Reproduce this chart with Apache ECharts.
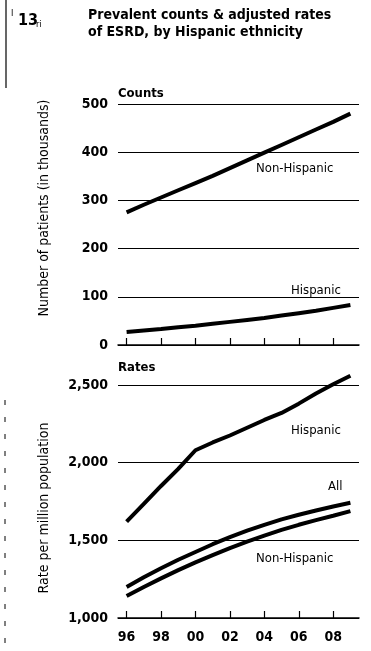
<!DOCTYPE html>
<html>
<head>
<meta charset="utf-8">
<script src="https://cdn.jsdelivr.net/npm/echarts@6/dist/echarts.min.js"></script>
<style>
html,body{margin:0;padding:0;background:#fff;}
#chart{width:371px;height:651px;}
</style>
</head>
<body>
<div id="chart"></div>
<script>
var years = ['1996','1997','1998','1999','2000','2001','2002','2003','2004','2005','2006','2007','2008','2009'];
var countsNonHispanic = [275,291,306,321,336,351,367,383,399,415,431,447,463,480];
var countsHispanic = [27,30,33,37,40,44,48,52,56,61,66,71,77,83];
var ratesHispanic = [1620,1735,1850,1960,2080,2130,2175,2225,2275,2320,2380,2445,2505,2560];
var ratesAll = [1200,1262,1320,1375,1425,1475,1520,1562,1600,1635,1665,1692,1718,1742];
var ratesNonHispanic = [1142,1200,1255,1308,1358,1405,1450,1492,1530,1567,1600,1630,1658,1688];

var FONT = '"Liberation Sans Narrow","DejaVu Sans Condensed",sans-serif';
var chart = echarts.init(document.getElementById('chart'));

function xAxisCfg(gridIndex, showLabels){
  return {
    type:'category', gridIndex:gridIndex, data:years, boundaryGap:true,
    axisLine:{show:true, lineStyle:{color:'#000', width:1.5}},
    axisTick:{show:true, inside:true, length:7, alignWithLabel:true, interval:1, lineStyle:{color:'#000', width:1.2}},
    axisLabel:{show:showLabels, interval:1, color:'#000', fontFamily:FONT, fontSize:14, fontWeight:'bold', margin:12,
      formatter:function(v){return v.slice(2);}},
    splitLine:{show:false}
  };
}
function yAxisCfg(gridIndex, min, max, interval, fmt){
  return {
    type:'value', gridIndex:gridIndex, min:min, max:max, interval:interval,
    axisLine:{show:false}, axisTick:{show:false},
    axisLabel:{color:'#000', fontFamily:FONT, fontSize:14, fontWeight:'bold', margin:10, formatter:fmt},
    splitLine:{show:true, lineStyle:{color:'#000', width:1}}
  };
}
function lineSeries(x, y, data){
  return {type:'line', xAxisIndex:x, yAxisIndex:y, data:data, symbol:'none', smooth:false, clip:false,
    lineStyle:{color:'#000', width:4}, z:3, silent:true};
}
function txt(x, y, s, opts){
  return {type:'text', left:x, top:y, style:Object.assign({text:s, fill:'#000', font:'13px '+FONT}, opts||{})};
}
function vtxt(cx, cy, s){
  return {type:'text', x:cx, y:cy, rotation:Math.PI/2,
    style:{text:s, fill:'#000', font:'14px '+FONT, align:'center', verticalAlign:'middle'}};
}

chart.setOption({
  animation:false,
  backgroundColor:'#fff',
  grid:[
    {left:118, right:12, top:104, height:241},
    {left:118, right:12, top:385, height:233}
  ],
  xAxis:[xAxisCfg(0,false), xAxisCfg(1,true)],
  yAxis:[
    yAxisCfg(0,0,500,100, function(v){return String(v);}),
    yAxisCfg(1,1000,2500,500, function(v){return v.toLocaleString('en-US');})
  ],
  series:[
    lineSeries(0,0,countsNonHispanic),
    lineSeries(0,0,countsHispanic),
    lineSeries(1,1,ratesHispanic),
    lineSeries(1,1,ratesAll),
    lineSeries(1,1,ratesNonHispanic)
  ],
  graphic:[
    txt(88, 8, 'Prevalent counts & adjusted rates', {font:'bold 14px '+FONT}),
    txt(88, 25, 'of ESRD, by Hispanic ethnicity', {font:'bold 14px '+FONT}),
    txt(18, 13, '13', {font:'bold 16px '+FONT}),
    txt(11, 9, 'I', {font:'9px '+FONT}),
    txt(36, 20, 'ri', {font:'9px '+FONT}),
    {type:'line', shape:{x1:6, y1:0, x2:6, y2:88}, style:{stroke:'#000', lineWidth:1.2}},
    {type:'line', shape:{x1:5, y1:400, x2:5, y2:651}, style:{stroke:'#000', lineWidth:1, lineDash:[5,12]}},
    vtxt(44, 208, 'Number of patients (in thousands)'),
    vtxt(44, 508, 'Rate per million population'),
    txt(118, 87, 'Counts', {font:'bold 13px '+FONT}),
    txt(118, 361, 'Rates', {font:'bold 13px '+FONT}),
    txt(256, 162, 'Non-Hispanic'),
    txt(291, 284, 'Hispanic'),
    txt(291, 424, 'Hispanic'),
    txt(328, 480, 'All'),
    txt(256, 552, 'Non-Hispanic')
  ]
});
</script>
</body>
</html>
